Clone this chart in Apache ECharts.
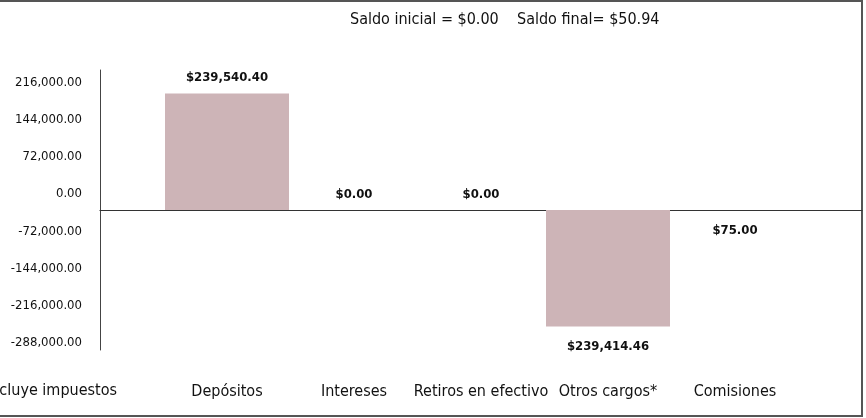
<!DOCTYPE html>
<html>
<head>
<meta charset="utf-8">
<title>Resumen de movimientos</title>
<script src="https://cdn.jsdelivr.net/npm/echarts@6/dist/echarts.min.js"></script>
<style>
    html, body { margin: 0; padding: 0; background: #fff; }
    #main { width: 866px; height: 418px; }
</style>
</head>
<body>
<div id="main"></div>
<script>
// datos del resumen
var categorias = ['', 'Depósitos', 'Intereses', 'Retiros en efectivo', 'Otros cargos*', 'Comisiones', ''];
var montos = ['-', 239540.40, 0, 0, -239414.46, -75.00, '-'];
var ticksEje = [216000, 144000, 72000, 0, -72000, -144000, -216000, -288000];
var saldoInicial = 0.00;
var saldoFinal = 50.94;
var notaPie = 'Incluye impuestos';

var fuente = "'Liberation Sans Narrow', 'DejaVu Sans Condensed', sans-serif";

function miles(v) {
    var s = Math.abs(v).toFixed(2).split('.');
    s[0] = s[0].replace(/\B(?=(\d{3})+(?!\d))/g, ',');
    return (v < 0 ? '-' : '') + s.join('.');
}

var chart = echarts.init(document.getElementById('main'));

var option = {
    backgroundColor: '#fff',
    animation: false,
    title: {
        text: 'Saldo inicial = $' + miles(saldoInicial) + '    Saldo final= $' + miles(saldoFinal),
        left: 345,
        top: 7,
        textStyle: { fontFamily: fuente, fontSize: 16, fontWeight: 'normal', color: '#111' }
    },
    graphic: [
        {
            type: 'text',
            left: -14,
            top: 383,
            style: { text: notaPie, font: '16px ' + fuente, fill: '#111' }
        },
        {
            type: 'rect',
            shape: { x: -5, y: 1, width: 867, height: 415 },
            style: { fill: 'none', stroke: '#555', lineWidth: 2 },
            silent: true
        }
    ],
    grid: { left: 100, right: 4, top: 70, bottom: 68 },
    xAxis: [
        {
            type: 'category',
            data: categorias,
            boundaryGap: false,
            axisLine: { onZero: true, onZeroAxisIndex: 0, lineStyle: { color: '#333', width: 1.2 } },
            axisTick: { show: false },
            axisLabel: { show: false }
        },
        {
            type: 'category',
            data: categorias,
            boundaryGap: false,
            position: 'bottom',
            axisLine: { show: false },
            axisTick: { show: false },
            axisLabel: { margin: 34, fontFamily: fuente, fontSize: 16, color: '#111', interval: 0 }
        }
    ],
    yAxis: [
        {
            type: 'value',
            min: -288000,
            max: 288000,
            interval: 72000,
            axisLine: { show: true, lineStyle: { color: '#444', width: 1 } },
            axisTick: { show: false },
            axisLabel: { show: false },
            splitLine: { show: false }
        },
        {
            type: 'value',
            position: 'left',
            min: -302000,
            max: 240000,
            axisLine: { show: false },
            axisTick: { show: false },
            splitLine: { show: false },
            axisLabel: {
                customValues: ticksEje,
                margin: 18,
                fontFamily: fuente,
                fontSize: 13,
                color: '#111',
                formatter: function (v) { return miles(v); }
            }
        }
    ],
    series: [
        {
            type: 'bar',
            xAxisIndex: 0,
            yAxisIndex: 0,
            barWidth: 124,
            itemStyle: { color: '#cdb4b7' },
            label: {
                show: true,
                fontFamily: fuente,
                fontSize: 13,
                fontWeight: 'bold',
                color: '#111',
                formatter: function (p) { return '$' + miles(Math.abs(p.value)); }
            },
            data: montos.map(function (v) {
                if (v === '-') return '-';
                return {
                    value: v,
                    label: { position: v < 0 ? 'bottom' : 'top', distance: v < 0 ? 14 : 9 }
                };
            })
        }
    ]
};

chart.setOption(option);

window.onresize = function () {
    chart.resize();
};
</script>
</body>
</html>
